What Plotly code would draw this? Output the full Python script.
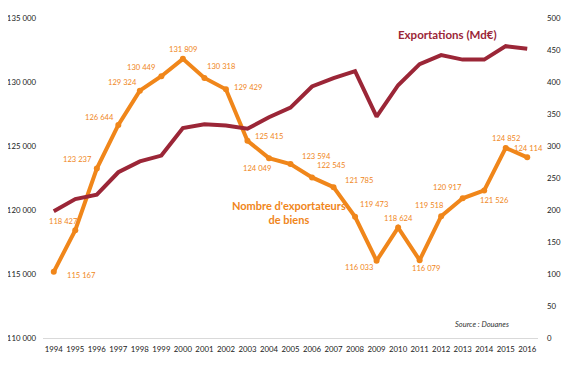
import plotly.graph_objects as go

years = [str(y) for y in range(1994, 2017)]
exportateurs = [115167, 118427, 123237, 126644, 129324, 130449, 131809, 130318, 129429,
                125415, 124049, 123594, 122545, 121785, 119473, 116033, 118624, 116079,
                119518, 120917, 121526, 124852, 124114]
exportations = [198, 217, 224, 259, 276, 285, 328, 334, 332, 327, 345, 360, 393, 406,
                417, 346, 395, 428, 442, 435, 435, 456, 452]
left_ticks = [110000, 115000, 120000, 125000, 130000, 135000]
left_ticktext = ["110 000", "115 000", "120 000", "125 000", "130 000", "135 000"]
right_ticks = list(range(0, 501, 50))

# label offsets (px) relative to each point: (dx, dy) with dy positive = down
label_offsets = [(28, 3), (-12, -9), (-19, -10), (-19, -8), (-17, -9), (-20, -9), (0, -10),
                 (17, -12), (22, -2), (22, -5), (-12, 10), (26, -8), (19, -12), (25, -7),
                 (19, -13), (-18, 6), (0, -10), (6, 8), (-12, -11), (-15, -11), (10, 10),
                 (0, -10), (1, -9)]

ORANGE = "#F0861A"
RED = "#9B2637"
FONT = "Lato"
OFF = 8  # page body margin offset

fig = go.Figure()
fig.add_trace(go.Scatter(x=years, y=exportations, yaxis="y2", mode="lines",
                         line=dict(color=RED, width=4), hoverinfo="skip"))
fig.add_trace(go.Scatter(x=years, y=exportateurs, mode="lines+markers",
                         line=dict(color=ORANGE, width=4),
                         marker=dict(color=ORANGE, size=6), hoverinfo="skip"))

anns = []
for i, (v, (dx, dy)) in enumerate(zip(exportateurs, label_offsets)):
    anns.append(dict(x=i, y=v, xref="x", yref="y", text=f"{v:,}".replace(",", " "),
                     showarrow=False, xshift=dx, yshift=-dy, xanchor="center", yanchor="middle",
                     font=dict(family=FONT, size=7.6, color=ORANGE)))
paper_anns = [
    dict(px=447, py=34, text="<b>Exportations (Md€)</b>",
         font=dict(family=FONT, size=11.5, color=RED)),
    dict(px=289, py=212, text="<b>Nombre d'exportateurs<br>de biens</b>",
         font=dict(family=FONT, size=11, color=ORANGE)),
    dict(px=482, py=324, text="<i>Source : Douanes</i>",
         font=dict(family=FONT, size=7.5, color="#333333")),
]

W, H = 569, 369
L, T = 43 - OFF, 18 - OFF
PW, PH = 495, 320
R, B = W - L - PW, H - T - PH
for a in paper_anns:
    anns.append(dict(x=(a["px"] - OFF - L) / PW, y=1 - (a["py"] - OFF - T) / PH,
                     xref="paper", yref="paper", text=a["text"], showarrow=False,
                     xanchor="center", yanchor="middle", font=a["font"]))

tickfont = dict(family=FONT, size=7.8, color="#1a1a1a")
fig.update_layout(
    width=W, height=H,
    margin=dict(l=L, r=R, t=T, b=B, autoexpand=False),
    paper_bgcolor="white", plot_bgcolor="white",
    showlegend=False,
    font=dict(family=FONT, size=8, color="#1a1a1a"),
    xaxis=dict(type="category", range=[-0.5, 22.5], showgrid=False, showline=True,
               linecolor="#D9D9D9", linewidth=1, ticks="", zeroline=False, tickangle=0,
               automargin=False, ticklabelstandoff=4, tickfont=tickfont),
    yaxis=dict(range=[110000, 135000], tickvals=left_ticks, ticktext=left_ticktext,
               showgrid=False, zeroline=False, showline=False, ticks="", automargin=False,
               ticklabelstandoff=6, tickfont=tickfont),
    yaxis2=dict(range=[0, 500], tickvals=right_ticks, overlaying="y", side="right",
                showgrid=False, zeroline=False, showline=False, ticks="", automargin=False,
                ticklabelstandoff=8, tickfont=tickfont),
    annotations=anns,
)

fig.write_html("out.html")
